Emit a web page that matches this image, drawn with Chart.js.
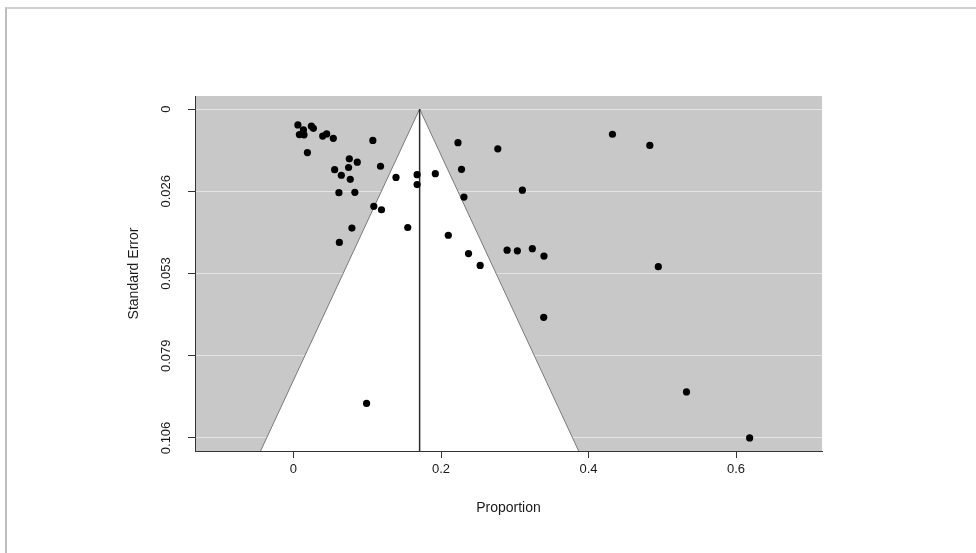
<!DOCTYPE html>
<html>
<head>
<meta charset="utf-8">
<script src="https://cdn.jsdelivr.net/npm/chart.js@4"></script>
<style>
  html, body { margin: 0; padding: 0; background: #fff; }
  #wrap { position: relative; width: 976px; height: 553px; }
  #frame { position: absolute; left: 5px; top: 7px; right: 0; bottom: 0; border-top: 2px solid #cfcfcf; border-left: 2px solid #bdbdbd; }
  #funnelChart { position: absolute; left: 0; top: 0; }
</style>
</head>
<body>
<div id="wrap">
  <div id="frame"></div>
  <canvas id="funnelChart" width="976" height="553"></canvas>
</div>
<script>
// study-level estimates
const proportions = [
  0.006, 0.0135, 0.008, 0.0143, 0.0243, 0.027, 0.0396, 0.045, 0.054, 0.0189,
  0.1076, 0.0757, 0.0865, 0.0747, 0.0558, 0.0649, 0.077, 0.118, 0.139, 0.1676,
  0.1676, 0.1923, 0.0616, 0.0832, 0.1089, 0.1193, 0.0792, 0.1549, 0.0622, 0.223,
  0.277, 0.2278, 0.3103, 0.2311, 0.2099, 0.2373, 0.2531, 0.2896, 0.3035, 0.3238,
  0.3396, 0.4946, 0.4324, 0.4831, 0.3392, 0.0991, 0.5328, 0.6184
];
const standardErrors = [
  0.0051, 0.0067, 0.0082, 0.0083, 0.0055, 0.0062, 0.0087, 0.008, 0.0094, 0.014,
  0.0101, 0.016, 0.0171, 0.0188, 0.0195, 0.0213, 0.0226, 0.0184, 0.022, 0.0211,
  0.0243, 0.0208, 0.0269, 0.0268, 0.0313, 0.0324, 0.0383, 0.0381, 0.0429, 0.0108,
  0.0128, 0.0194, 0.0261, 0.0283, 0.0406, 0.0465, 0.0503, 0.0454, 0.0456, 0.0449,
  0.0473, 0.0507, 0.0081, 0.0117, 0.067, 0.0947, 0.091, 0.1058
];
const pooledProportion = 0.171;
const xTicks = [0, 0.2, 0.4, 0.6];
const yTicks = [0, 0.02645, 0.0529, 0.07935, 0.1058];
const yTickLabels = ['0', '0.026', '0.053', '0.079', '0.106'];

const xMin = -0.1335, xMax = 0.7165;
const yTop = -0.0042, yBottom = 0.110;

const points = proportions.map((p, i) => ({ x: p, y: standardErrors[i] }));
const funnel = [
  { x: pooledProportion - 1.96 * yBottom, y: yBottom },
  { x: pooledProportion, y: 0 },
  { x: pooledProportion + 1.96 * yBottom, y: yBottom }
];

const plotBackground = {
  id: 'plotBackground',
  beforeDraw(chart) {
    const { ctx, chartArea: a } = chart;
    ctx.save();
    ctx.fillStyle = '#c8c8c8';
    ctx.fillRect(a.left, a.top, a.right - a.left, a.bottom - a.top);
    ctx.restore();
  }
};

const font = { family: '"Liberation Sans", Arial, sans-serif', size: 13 };
const titleFont = { family: '"Liberation Sans", Arial, sans-serif', size: 14 };

new Chart(document.getElementById('funnelChart'), {
  type: 'scatter',
  data: {
    datasets: [
      {
        data: funnel, showLine: true, pointRadius: 0, borderColor: '#7a7a7a', borderWidth: 1,
        backgroundColor: '#ffffff', fill: { value: yBottom }, tension: 0, order: 3
      },
      {
        data: [{ x: pooledProportion, y: 0 }, { x: pooledProportion, y: yBottom }],
        showLine: true, pointRadius: 0, borderColor: '#2b2b2b', borderWidth: 1.5, fill: false, order: 2
      },
      {
        data: points, pointRadius: 3.6, pointHoverRadius: 3.6, backgroundColor: '#000',
        borderWidth: 0, order: 1
      }
    ]
  },
  options: {
    responsive: false,
    animation: false,
    events: [],
    layout: { padding: { left: 0, right: 154, top: 96, bottom: 0 } },
    plugins: { legend: { display: false }, tooltip: { enabled: false } },
    scales: {
      x: {
        type: 'linear', min: xMin, max: xMax,
        afterBuildTicks: s => { s.ticks = xTicks.map(v => ({ value: v })); },
        afterFit: s => { s.height = 102; },
        grid: { drawOnChartArea: false, drawTicks: true, tickLength: 7, tickColor: '#333' },
        border: { display: true, color: '#333', width: 1 },
        ticks: { font, color: '#1a1a1a', padding: 4, maxRotation: 0, autoSkip: false,
          callback: v => String(v) },
        title: { display: true, text: 'Proportion', font: titleFont, color: '#1a1a1a', padding: { top: 0, bottom: 36 } }
      },
      y: {
        type: 'linear', reverse: true, min: yTop, max: yBottom,
        afterBuildTicks: s => { s.ticks = yTicks.map(v => ({ value: v })); },
        afterFit: s => { s.width = 195; },
        grid: { color: '#e4e4e4', lineWidth: 1, drawTicks: true, tickLength: 7, tickColor: '#333' },
        border: { display: true, color: '#333', width: 1 },
        ticks: { font, color: '#1a1a1a', padding: 5, minRotation: 90, maxRotation: 90,
          crossAlign: 'center', autoSkip: false,
          callback: v => yTickLabels[yTicks.indexOf(v)] },
        title: { display: true, text: 'Standard Error', font: titleFont, color: '#1a1a1a', padding: { top: 126, bottom: 0 } }
      }
    }
  },
  plugins: [plotBackground]
});
</script>
</body>
</html>
